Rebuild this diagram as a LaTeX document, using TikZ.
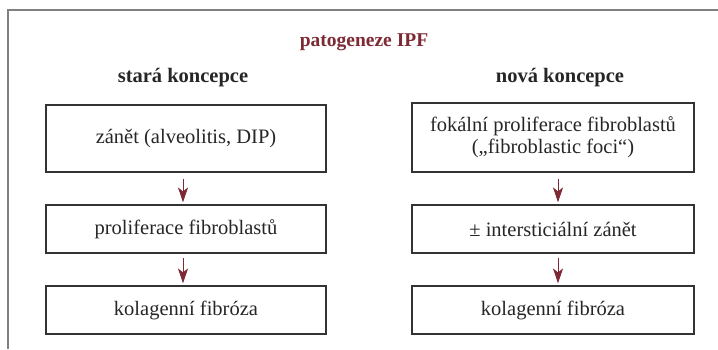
\documentclass[tikz,border=0pt]{standalone}
\usepackage{fontspec}
\setmainfont{Liberation Serif}
\usetikzlibrary{arrows.meta}
\definecolor{ipfred}{HTML}{7E2A35}
\definecolor{boxline}{HTML}{333333}
\definecolor{frameline}{HTML}{808080}
\tikzset{
  stepbox/.style={draw=boxline, line width=1.1pt, minimum width=280pt, minimum height=48pt, inner sep=0pt, align=center, font=\fontsize{20.5}{24}\selectfont, text=black!85},
  bigbox/.style={stepbox, minimum height=68pt},
  flowarrow/.style={draw=ipfred, line width=1pt, -{Stealth[length=15pt, width=10pt, inset=4pt]}},
  heading/.style={font=\fontsize{20.5}{24}\selectfont\bfseries, text=black!85},
}
\begin{document}
\begin{tikzpicture}[x=1pt, y=-1pt]
\useasboundingbox (0,0) rectangle (718,349);
\draw[frameline, line width=1.4pt] (8,349) -- (8,10) -- (718,10);
\node[font=\fontsize{19.5}{23}\selectfont\bfseries, text=ipfred] (title) at (364,42) {patogeneze IPF};
\node[heading] (hl) at (183,78) {stará koncepce};
\node[heading] (hr) at (560,78) {nová koncepce};
\node[bigbox, minimum height=67pt] (l1) at (186,138.5) {zánět (alveolitis, DIP)};
\node[stepbox] (l2) at (186,229) {proliferace fibroblastů};
\node[stepbox] (l3) at (186,310) {kolagenní fibróza};
\node[bigbox, minimum width=282pt, minimum height=69pt] (r1) at (553,137.5) {fokální proliferace fibroblastů\\[-2pt](„fibroblastic foci“)};
\node[stepbox, minimum width=282pt] (r2) at (553,229) {± intersticiální zánět};
\node[stepbox, minimum width=282pt] (r3) at (553,310) {kolagenní fibróza};
\draw[flowarrow] ([xshift=-3pt,yshift=-6pt]l1.south) -- ([xshift=-3pt,yshift=2pt]l2.north);
\draw[flowarrow] ([xshift=-3pt,yshift=-4pt]l2.south) -- ([xshift=-3pt,yshift=2pt]l3.north);
\draw[flowarrow] ([xshift=5pt,yshift=-6pt]r1.south) -- ([xshift=5pt,yshift=2pt]r2.north);
\draw[flowarrow] ([xshift=5pt,yshift=-4pt]r2.south) -- ([xshift=5pt,yshift=2pt]r3.north);
\end{tikzpicture}
\end{document}
